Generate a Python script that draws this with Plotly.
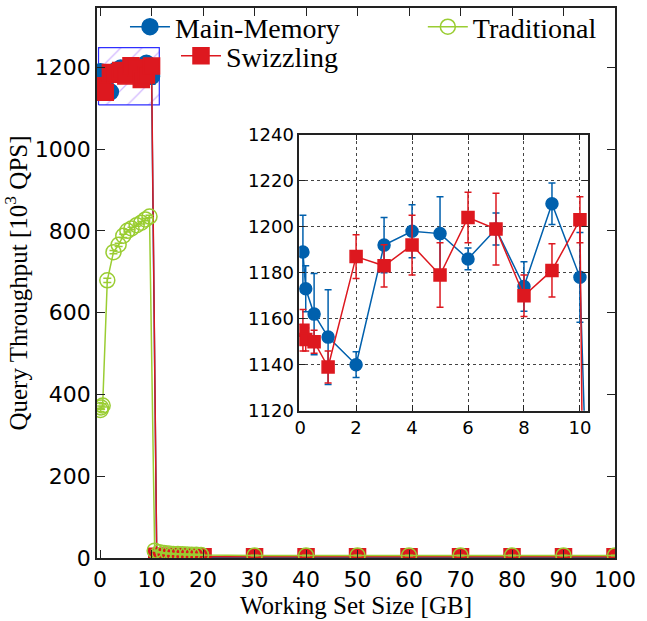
import plotly.graph_objects as go

# ---------------- data ----------------
# Main-Memory
mm_x = [0.1, 0.2, 0.5, 1, 2, 3, 4, 5, 6, 7, 8, 9, 10,
        11, 12, 13, 14, 15, 16, 17, 18, 19, 20,
        30, 40, 50, 60, 70, 80, 90, 100]
mm_y = [1189, 1173, 1162, 1152, 1140, 1192, 1198, 1197, 1186, 1199, 1174, 1210, 1178,
        2.5, 2.2, 2.0, 2.0, 1.9, 1.9, 1.8, 1.8, 1.8, 1.7,
        1.5, 1.5, 1.5, 1.5, 1.5, 1.5, 1.5, 1.5]
mm_e = [16, 10, 17.7, 20.6, 5.6, 12, 11.5, 16, 4.7, 7, 10.8, 9, 19.5,
        0.3, 0.3, 0.3, 0.3, 0.3, 0.3, 0.3, 0.3, 0.3, 0.3,
        0.2, 0.2, 0.2, 0.2, 0.2, 0.2, 0.2, 0.2]

# Swizzling
sw_x = [0.1, 0.2, 0.5, 1, 2, 3, 4, 5, 6, 7, 8, 9, 10,
        11, 12, 13, 14, 15, 16, 17, 18, 19, 20,
        30, 40, 50, 60, 70, 80, 90, 100]
sw_y = [1155, 1151, 1150, 1139, 1187, 1183, 1192, 1179, 1204, 1199, 1170, 1181, 1203,
        4.0, 3.8, 3.6, 3.5, 3.4, 3.3, 3.3, 3.2, 3.2, 3.1,
        3.0, 3.0, 3.0, 3.0, 3.0, 3.0, 3.0, 3.0]
sw_e = [9, 5, 5, 7, 9.5, 9.2, 13, 14, 11, 15.6, 9, 11.6, 10,
        0.3, 0.3, 0.3, 0.3, 0.3, 0.3, 0.3, 0.3, 0.3, 0.3,
        0.2, 0.2, 0.2, 0.2, 0.2, 0.2, 0.2, 0.2]

# Traditional
tr_x = [0.1, 0.2, 0.5, 1.4, 2.6, 3.6, 4.5, 5.3, 6.1, 7.1, 8.0, 8.8, 9.6,
        10.6, 11.5, 12.4, 13.3, 14.2, 15.1, 16.0, 16.9, 17.8, 18.7, 19.6,
        30, 40, 50, 60, 70, 80, 90, 100]
tr_y = [362, 368, 373, 679, 748, 766, 788, 800, 806, 814, 820, 828, 835,
        18, 14, 12, 11, 10, 9.5, 9, 8.5, 8, 8, 7.5,
        6, 6, 6, 6, 6, 6, 6, 6]
tr_e = [4, 4, 4, 5, 4, 4, 4, 3, 3, 3, 3, 3, 3,
        1, 1, 1, 1, 1, 1, 1, 1, 1, 1, 1,
        0.5, 0.5, 0.5, 0.5, 0.5, 0.5, 0.5, 0.5]

# zoom box drawn on the main plot (data coordinates)
box_x = [-0.3, 11.5]
box_y = [1108, 1248]

main_x_range = [-0.6, 100]
main_y_range = [0, 1345]
inset_x_range = [-0.03, 10.29]
inset_y_range = [1120, 1240]
main_x_ticks = [0, 10, 20, 30, 40, 50, 60, 70, 80, 90, 100]
main_y_ticks = [0, 200, 400, 600, 800, 1000, 1200]
inset_x_ticks = [0, 2, 4, 6, 8, 10]
inset_y_ticks = [1120, 1140, 1160, 1180, 1200, 1220, 1240]

BLUE = '#0060ad'
RED = '#dd181f'
GREEN = '#9acd32'
SANS = 'DejaVu Sans'
SERIF = 'Liberation Serif'

fig = go.Figure()

# zoom rectangle with hatch
fig.add_trace(go.Scatter(
    x=[box_x[0], box_x[1], box_x[1], box_x[0], box_x[0]],
    y=[box_y[0], box_y[0], box_y[1], box_y[1], box_y[0]],
    mode='lines', fill='toself', fillcolor='rgba(0,0,0,0)',
    fillpattern=dict(shape='/', fgcolor='#a36bff', bgcolor='rgba(0,0,0,0)',
                     size=15, solidity=0.08),
    line=dict(color='#2f2fff', width=1.2),
    showlegend=False, hoverinfo='skip', xaxis='x', yaxis='y'))


def series(x, y, e, name, color, symbol, size, axis, legend, showlegend, width_cap):
    return go.Scatter(
        x=x, y=y, name=name, mode='lines+markers',
        line=dict(color=color, width=1.5),
        marker=dict(color=color, symbol=symbol, size=size,
                    line=dict(color=color, width=1.5)),
        error_y=dict(type='data', array=e, visible=True, color=color,
                     thickness=1.5, width=width_cap),
        xaxis=axis[0], yaxis=axis[1], legend=legend, showlegend=showlegend,
        cliponaxis=True)


# main plot
fig.add_trace(series(mm_x, mm_y, mm_e, 'Main-Memory', BLUE, 'circle', 16,
                     ('x', 'y'), 'legend', True, 4))
fig.add_trace(series(sw_x, sw_y, sw_e, 'Swizzling', RED, 'square', 16,
                     ('x', 'y'), 'legend2', True, 4))
fig.add_trace(series(tr_x, tr_y, tr_e, 'Traditional', GREEN, 'circle-open', 15,
                     ('x', 'y'), 'legend3', True, 4))

# inset
fig.add_trace(series(mm_x, mm_y, mm_e, 'Main-Memory', BLUE, 'circle', 12,
                     ('x2', 'y2'), 'legend', False, 3.5))
fig.add_trace(series(sw_x, sw_y, sw_e, 'Swizzling', RED, 'square', 12,
                     ('x2', 'y2'), 'legend2', False, 3.5))

axis_common = dict(showline=True, linecolor='#222', linewidth=1.5, mirror='ticks',
                   ticks='inside', tickcolor='#222', tickwidth=1.2, zeroline=False,
                   automargin=False)

legend_common = dict(xanchor='left', yanchor='middle', bgcolor='rgba(0,0,0,0)',
                     borderwidth=0, itemwidth=40,
                     font=dict(family=SERIF, size=28, color='black'))

fig.update_layout(
    width=647, height=621,
    margin=dict(l=97, r=32, t=8, b=63, autoexpand=False),
    paper_bgcolor='white', plot_bgcolor='white',
    xaxis=dict(**axis_common, range=main_x_range, tickvals=main_x_ticks, ticklen=8,
               showgrid=False, ticklabelstandoff=1,
               tickfont=dict(family=SANS, size=22, color='black')),
    yaxis=dict(**axis_common, range=main_y_range, tickvals=main_y_ticks, ticklen=8,
               showgrid=False,
               tickfont=dict(family=SANS, size=22, color='black'),
               title=dict(text='Query Throughput [10<sup>3</sup> QPS]', standoff=4,
                          font=dict(family=SERIF, size=25, color='black'))),
    xaxis2=dict(**axis_common, range=inset_x_range, tickvals=inset_x_ticks, ticklen=6,
                domain=[0.3905, 0.948], anchor='y2',
                showgrid=True, gridcolor='#444', griddash='dot', gridwidth=1,
                tickfont=dict(family=SANS, size=18, color='black')),
    yaxis2=dict(**axis_common, range=inset_y_range, tickvals=inset_y_ticks, ticklen=6,
                domain=[0.2678, 0.7696], anchor='x2',
                showgrid=True, gridcolor='#444', griddash='dot', gridwidth=1,
                tickfont=dict(family=SANS, size=18, color='black')),
    legend=dict(**legend_common, x=0.054, y=0.9655),
    legend2=dict(**legend_common, x=0.1525, y=0.9127),
    legend3=dict(**legend_common, x=0.629, y=0.9655),
    showlegend=True,
    annotations=[dict(text='Working Set Size [GB]', xref='paper', yref='paper',
                      x=0.5, y=-0.0864, xanchor='center', yanchor='middle',
                      showarrow=False,
                      font=dict(family=SERIF, size=25, color='black'))],
)

fig.write_html('out.html', config={'displayModeBar': False},
               post_script="document.body.style.margin='0';")
